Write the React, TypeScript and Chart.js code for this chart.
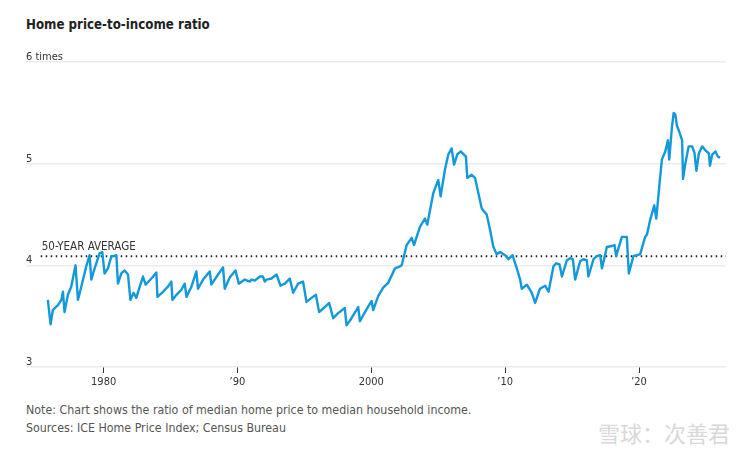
import React, { useEffect, useRef } from "react";
import { Chart, registerables } from "chart.js";

Chart.register(...registerables);

const YEARS = [
  1975.83, 1976.04, 1976.2, 1976.6, 1976.84, 1976.96, 1977.08, 1977.33, 1977.58, 1977.9,
  1978.08, 1978.33, 1978.7, 1978.95, 1979.08, 1979.33, 1979.7, 1979.9, 1980.07, 1980.32,
  1980.58, 1980.75, 1980.95, 1981.07, 1981.32, 1981.57, 1981.82, 1982.0, 1982.24, 1982.44,
  1982.7, 1982.94, 1983.14, 1983.57, 1983.94, 1984.02, 1984.44, 1984.8, 1985.06, 1985.14,
  1985.44, 1985.81, 1986.06, 1986.19, 1986.56, 1986.93, 1987.05, 1987.43, 1987.93, 1988.05,
  1988.55, 1988.92, 1989.05, 1989.42, 1989.85, 1990.1, 1990.55, 1990.92, 1991.05, 1991.3,
  1991.67, 1991.9, 1992.04, 1992.17, 1992.54, 1992.92, 1993.21, 1993.54, 1993.91, 1994.16,
  1994.53, 1994.9, 1995.16, 1995.53, 1995.86, 1996.1, 1996.53, 1996.85, 1997.15, 1997.52,
  1998.02, 1998.15, 1998.52, 1999.02, 1999.15, 1999.52, 2000.02, 2000.14, 2000.52, 2000.89,
  2001.27, 2001.77, 2002.14, 2002.27, 2002.64, 2003.02, 2003.19, 2003.64, 2004.01, 2004.18,
  2004.38, 2004.63, 2005.0, 2005.18, 2005.5, 2005.75, 2006.0, 2006.18, 2006.42, 2006.68,
  2007.07, 2007.17, 2007.5, 2007.75, 2008.0, 2008.25, 2008.62, 2008.87, 2009.12, 2009.37,
  2009.62, 2010.0, 2010.24, 2010.55, 2010.87, 2011.12, 2011.24, 2011.62, 2011.99, 2012.24,
  2012.6, 2012.99, 2013.24, 2013.61, 2013.81, 2014.06, 2014.24, 2014.61, 2014.86, 2015.06,
  2015.23, 2015.6, 2015.85, 2016.1, 2016.22, 2016.6, 2016.85, 2017.1, 2017.23, 2017.6,
  2017.97, 2018.17, 2018.29, 2018.72, 2018.96, 2019.09, 2019.24, 2019.58, 2019.84, 2020.09,
  2020.46, 2020.59, 2020.84, 2021.14, 2021.29, 2021.54, 2021.71, 2021.96, 2022.16, 2022.26,
  2022.46, 2022.59, 2022.72, 2022.84, 2023.02, 2023.22, 2023.29, 2023.46, 2023.71, 2023.97,
  2024.14, 2024.29, 2024.47, 2024.72, 2024.97, 2025.22, 2025.3, 2025.47, 2025.72, 2025.89,
  2026.06,
];

const RATIO = [
  3.66, 3.42, 3.56, 3.61, 3.66, 3.74, 3.54, 3.71, 3.79, 4.0,
  3.66, 3.79, 3.99, 4.1, 3.86, 3.97, 4.12, 4.13, 3.92, 3.97,
  4.09, 4.09, 4.1, 3.82, 3.92, 3.95, 3.91, 3.66, 3.73, 3.68,
  3.79, 3.89, 3.81, 3.87, 3.93, 3.69, 3.74, 3.79, 3.84, 3.66,
  3.71, 3.76, 3.82, 3.69, 3.79, 3.94, 3.77, 3.86, 3.94, 3.81,
  3.91, 3.98, 3.77, 3.88, 3.95, 3.82, 3.86, 3.84, 3.86, 3.85,
  3.89, 3.89, 3.84, 3.86, 3.87, 3.91, 3.8, 3.82, 3.87, 3.73,
  3.82, 3.84, 3.64, 3.68, 3.71, 3.54, 3.59, 3.63, 3.48, 3.53,
  3.58, 3.41, 3.48, 3.59, 3.45, 3.54, 3.65, 3.56, 3.7, 3.78,
  3.83, 3.97, 3.99, 4.0, 4.2, 4.27, 4.2, 4.38, 4.46, 4.4,
  4.54, 4.71, 4.84, 4.68, 4.94, 5.09, 5.15, 4.99, 5.09, 5.12,
  5.07, 4.86, 4.89, 4.86, 4.71, 4.56, 4.5, 4.35, 4.18, 4.11,
  4.13, 4.1, 4.06, 4.1, 3.97, 3.86, 3.77, 3.81, 3.73, 3.63,
  3.77, 3.8, 3.74, 3.99, 4.02, 4.01, 3.89, 4.05, 4.07, 4.06,
  3.86, 4.04, 4.06, 4.05, 3.89, 4.06, 4.09, 4.1, 3.97, 4.18,
  4.19, 4.2, 4.09, 4.28, 4.28, 4.28, 3.92, 4.09, 4.1, 4.11,
  4.28, 4.3, 4.45, 4.59, 4.46, 4.81, 5.04, 5.12, 5.23, 5.04,
  5.36, 5.5, 5.48, 5.37, 5.31, 5.23, 4.85, 5.0, 5.17, 5.17,
  5.11, 4.93, 5.1, 5.17, 5.13, 5.1, 4.98, 5.09, 5.12, 5.07,
  5.06,
];

const AVERAGE = 4.09;
const AVERAGE_START = 1975.3;
const AVERAGE_LABEL = "50-YEAR AVERAGE";

const X_MIN = 1974.2;
const X_MAX = 2026.5;
const TICK_YEARS = [1980, 1990, 2000, 2010, 2020];
const TICK_LABELS = ["1980", "’90", "2000", "’10", "’20"];

const Y_TICKS = [3, 4, 5, 6];
const Y_LABELS = ["3", "4", "5", "6 times"];

const TITLE = "Home price-to-income ratio";
const NOTE = "Note: Chart shows the ratio of median home price to median household income.";
const SOURCE = "Sources: ICE Home Price Index; Census Bureau";
const WATERMARK = "雪球：次善君";

const FONT = "'DejaVu Sans Condensed', 'Liberation Sans Narrow', Arial, sans-serif";

export default function App() {
  const ref = useRef<HTMLCanvasElement | null>(null);

  useEffect(() => {
    if (!ref.current) return;
    const avgLabel = {
      id: "avgLabel",
      afterDatasetsDraw(chart: any) {
        const { ctx, scales } = chart;
        const x = scales.x.getPixelForValue(AVERAGE_START);
        const y = scales.y.getPixelForValue(AVERAGE);
        ctx.save();
        ctx.font = `11.5px ${FONT}`;
        ctx.fillStyle = "#333";
        ctx.textAlign = "left";
        ctx.textBaseline = "alphabetic";
        ctx.fillText(AVERAGE_LABEL, x + 1, y - 6);
        ctx.restore();
      },
    };
    const chart = new Chart(ref.current, {
      type: "line",
      data: {
        datasets: [
          {
            data: YEARS.map((x, i) => ({ x, y: RATIO[i] })),
            borderColor: "#1399d9",
            borderWidth: 2.4,
            pointRadius: 0,
            tension: 0,
            borderJoinStyle: "round",
            order: 1,
          },
          {
            data: [
              { x: AVERAGE_START, y: AVERAGE },
              { x: X_MAX, y: AVERAGE },
            ],
            borderColor: "#222",
            borderWidth: 2,
            borderDash: [1.5, 3.5],
            pointRadius: 0,
            order: 2,
          },
        ],
      },
      options: {
        animation: false,
        responsive: false,
        layout: { padding: { left: 26, right: 28, top: 62, bottom: 0 } },
        plugins: { legend: { display: false }, tooltip: { enabled: false } },
        scales: {
          x: {
            type: "linear",
            min: X_MIN,
            max: X_MAX,
            afterBuildTicks: (scale: any) => {
              scale.ticks = TICK_YEARS.map((v) => ({ value: v }));
            },
            afterFit: (scale: any) => {
              scale.height = 33;
            },
            border: { display: false },
            grid: {
              drawOnChartArea: false,
              drawTicks: true,
              tickLength: 6,
              color: "#333",
              lineWidth: 1,
            },
            ticks: {
              autoSkip: false,
              maxRotation: 0,
              padding: 3,
              color: "#333",
              font: { family: FONT, size: 11 },
              callback: (v: any) => {
                const i = TICK_YEARS.indexOf(Number(v));
                return i >= 0 ? TICK_LABELS[i] : "";
              },
            },
          },
          y: {
            min: 3,
            max: 6,
            afterBuildTicks: (scale: any) => {
              scale.ticks = Y_TICKS.map((v) => ({ value: v }));
            },
            afterFit: (scale: any) => {
              scale.width = 0;
            },
            border: { display: false },
            grid: { color: "#ebebeb", lineWidth: 1.5, drawTicks: false },
            ticks: {
              mirror: true,
              padding: 0,
              labelOffset: -5,
              color: "#333",
              font: { family: FONT, size: 11 },
              callback: (v: any) => {
                const i = Y_TICKS.indexOf(Number(v));
                return i >= 0 ? Y_LABELS[i] : "";
              },
            },
          },
        },
      },
      plugins: [avgLabel],
    });
    return () => chart.destroy();
  }, []);

  return (
    <div
      style={{
        position: "absolute",
        left: 0,
        top: 0,
        width: 754,
        height: 454,
        background: "#fff",
        overflow: "hidden",
        fontFamily: FONT,
      }}
    >
      <div
        style={{
          position: "absolute",
          left: 26,
          top: 15,
          lineHeight: "20px",
          fontSize: 13.2,
          fontWeight: "bold",
          color: "#222",
        }}
      >
        {TITLE}
      </div>
      <canvas
        ref={ref}
        width={754}
        height={400}
        style={{ position: "absolute", left: 0, top: 0, width: 754, height: 400 }}
      />
      <div
        style={{
          position: "absolute",
          left: 26,
          top: 401,
          lineHeight: "18px",
          fontSize: 12.3,
          color: "#555",
        }}
      >
        {NOTE}
      </div>
      <div
        style={{
          position: "absolute",
          left: 26,
          top: 419,
          lineHeight: "18px",
          fontSize: 12.3,
          color: "#555",
        }}
      >
        {SOURCE}
      </div>
      <div
        style={{
          position: "absolute",
          left: 598,
          top: 418,
          lineHeight: "28px",
          fontSize: 22,
          color: "#d8d8d8",
          fontFamily: "'Noto Sans CJK SC', sans-serif",
        }}
      >
        {WATERMARK}
      </div>
    </div>
  );
}
